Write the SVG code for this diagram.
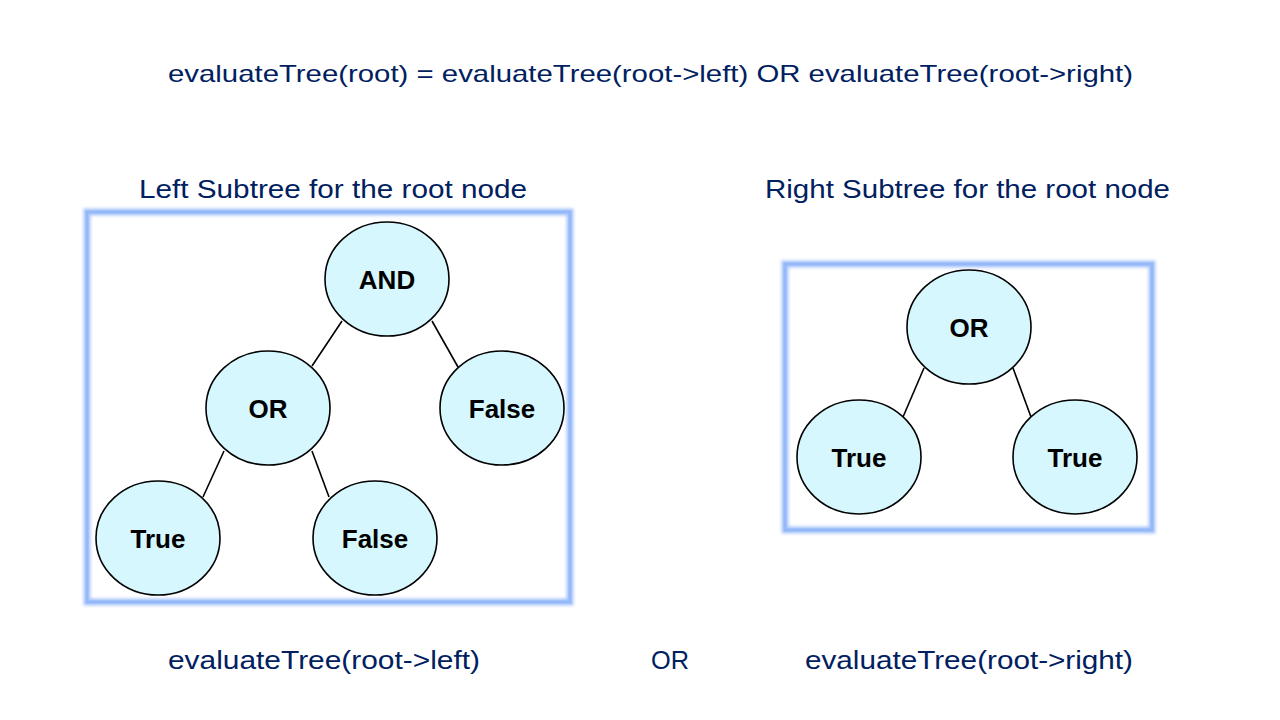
<svg xmlns="http://www.w3.org/2000/svg" width="1280" height="720" viewBox="0 0 1280 720">
<defs>
<filter id="glow" x="-10%" y="-10%" width="120%" height="120%">
<feGaussianBlur stdDeviation="1.5"/>
</filter>
</defs>
<style>
.lbl{font-family:"Liberation Sans",Arial,sans-serif;font-size:24px;fill:#002060}
.sub{font-size:25px}
.node ellipse{fill:#D5F7FD;stroke:#000;stroke-width:1.6}
.node text{font-family:"Liberation Sans",Arial,sans-serif;font-weight:bold;font-size:26px;fill:#000;text-anchor:middle}
.edge{stroke:#000;stroke-width:1.6}
.frame{fill:none;stroke:#A9C6FA;stroke-width:7;filter:url(#glow)}
.frame2{fill:none;stroke:#94B8F8;stroke-width:3}
</style>
<rect width="1280" height="720" fill="#fff"/>
<text class="lbl" x="168" y="82" textLength="965" lengthAdjust="spacingAndGlyphs">evaluateTree(root) = evaluateTree(root-&gt;left) OR evaluateTree(root-&gt;right)</text>
<text class="lbl sub" x="139" y="198" textLength="388" lengthAdjust="spacingAndGlyphs">Left Subtree for the root node</text>
<text class="lbl sub" x="765" y="198" textLength="405" lengthAdjust="spacingAndGlyphs">Right Subtree for the root node</text>
<text class="lbl sub" x="168" y="669" textLength="312" lengthAdjust="spacingAndGlyphs">evaluateTree(root-&gt;left)</text>
<text class="lbl sub" x="651" y="669" textLength="38" lengthAdjust="spacingAndGlyphs">OR</text>
<text class="lbl sub" x="805" y="669" textLength="328" lengthAdjust="spacingAndGlyphs">evaluateTree(root-&gt;right)</text>
<g id="frames">
<rect class="frame" x="87" y="212" width="483" height="390"/>
<rect class="frame2" x="87" y="212" width="483" height="390"/>
<rect class="frame" x="785" y="264" width="367" height="266"/>
<rect class="frame2" x="785" y="264" width="367" height="266"/>
</g>
<g id="connectors">
<line class="edge" x1="342" y1="321" x2="312" y2="366"/>
<line class="edge" x1="432" y1="321" x2="458" y2="367"/>
<line class="edge" x1="224" y1="451" x2="203" y2="497"/>
<line class="edge" x1="312" y1="451" x2="329" y2="497"/>
<line class="edge" x1="924" y1="368" x2="903" y2="417"/>
<line class="edge" x1="1013" y1="368" x2="1031" y2="417"/>
</g>
<g id="n-and" class="node"><ellipse cx="387" cy="279" rx="62" ry="57"/><text x="387" y="289">AND</text></g>
<g id="n-or-left" class="node"><ellipse cx="268" cy="408" rx="62" ry="57"/><text x="268" y="418">OR</text></g>
<g id="n-false-right" class="node"><ellipse cx="502" cy="408" rx="62" ry="57"/><text x="502" y="418">False</text></g>
<g id="n-true-left" class="node"><ellipse cx="158" cy="538" rx="62" ry="57"/><text x="158" y="548">True</text></g>
<g id="n-false-bottom" class="node"><ellipse cx="375" cy="538" rx="62" ry="57"/><text x="375" y="548">False</text></g>
<g id="n-or-right" class="node"><ellipse cx="969" cy="327" rx="62" ry="57"/><text x="969" y="337">OR</text></g>
<g id="n-true-r1" class="node"><ellipse cx="859" cy="457" rx="62" ry="57"/><text x="859" y="467">True</text></g>
<g id="n-true-r2" class="node"><ellipse cx="1075" cy="457" rx="62" ry="57"/><text x="1075" y="467">True</text></g>
</svg>
